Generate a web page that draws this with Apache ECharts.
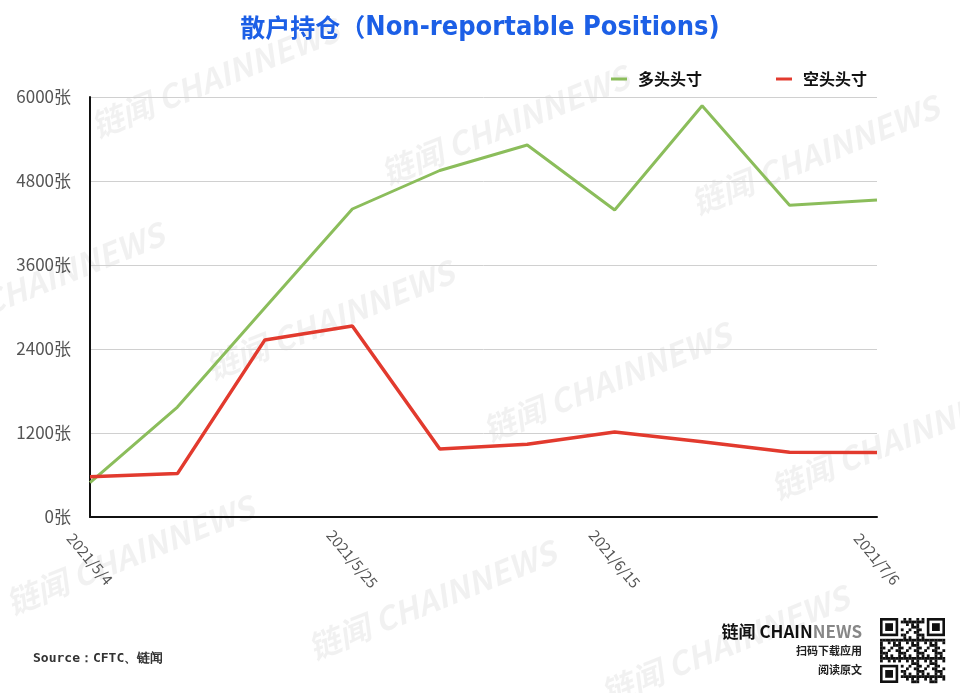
<!DOCTYPE html>
<html>
<head>
<meta charset="utf-8">
<script src="https://cdn.jsdelivr.net/npm/echarts@6/dist/echarts.min.js"></script>
<style>html,body{margin:0;padding:0;background:#fff}#c{width:960px;height:693px}</style>
</head>
<body>
<div id="c"></div>
<script>
var dates = ['2021/5/4','2021/5/11','2021/5/18','2021/5/25','2021/6/1','2021/6/8','2021/6/15','2021/6/22','2021/6/29','2021/7/6'];
var longPos = [490, 1570, 2990, 4400, 4950, 5315, 4385, 5875, 4455, 4530];
var shortPos = [575, 620, 2530, 2730, 970, 1040, 1215, 1075, 925, 920];
var seriesNames = ['多头头寸', '空头头寸'];
var yTicks = [0, 1200, 2400, 3600, 4800, 6000];

var FONT = '"Noto Sans CJK SC", "Noto Sans", sans-serif';
var wmPos = [[215,78],[505,125],[815,155],[40,282],[330,320],[607,382],[895,440],[130,555],[432,600],[725,645],[1010,700],[1100,215]];
var graphics = [];
wmPos.forEach(function(p){
  graphics.push({type:'text', x:p[0], y:p[1], rotation: 22*Math.PI/180, z:-10, silent:true,
    style:{text:'链闻 CHAINNEWS', fill:'rgba(0,0,0,0.055)', font:'italic bold 32px ' + FONT, align:'center', verticalAlign:'middle'}});
});
graphics.push({type:'text', left:33, top:652, style:{text:'Source：CFTC、链闻', fill:'#333', font:'bold 13px "DejaVu Sans Mono", monospace'}});
graphics.push({type:'text', x:862, y:632, style:{rich:{a:{fill:'#111', font:'bold 17px ' + FONT},b:{fill:'#888', font:'bold 17px ' + FONT}}, text:'{a|链闻 CHAIN}{b|NEWS}', align:'right', verticalAlign:'middle'}});
graphics.push({type:'text', x:862, y:651, style:{text:'扫码下载应用', fill:'#222', font:'bold 11px ' + FONT, align:'right', verticalAlign:'middle'}});
graphics.push({type:'text', x:862, y:670, style:{text:'阅读原文', fill:'#222', font:'bold 11px ' + FONT, align:'right', verticalAlign:'middle'}});
// QR-like decoration
var qx = 880, qy = 618, n = 25, m = 2.6;
function finder(ox, oy){
  graphics.push({type:'rect', shape:{x:ox, y:oy, width:7*m, height:7*m}, style:{fill:'#111'}});
  graphics.push({type:'rect', shape:{x:ox+m, y:oy+m, width:5*m, height:5*m}, style:{fill:'#fff'}});
  graphics.push({type:'rect', shape:{x:ox+2*m, y:oy+2*m, width:3*m, height:3*m}, style:{fill:'#111'}});
}
for (var i=0;i<n;i++){ for (var j=0;j<n;j++){
  var inF = (i<8&&j<8)||(i<8&&j>=n-8)||(i>=n-8&&j<8);
  if (inF) continue;
  if (((i*7 + j*11 + i*j*3) % 7) < 3) {
    graphics.push({type:'rect', shape:{x:qx+j*m, y:qy+i*m, width:m+0.2, height:m+0.2}, style:{fill:'#111'}});
  }
}}
finder(qx, qy); finder(qx+(n-7)*m, qy); finder(qx, qy+(n-7)*m);

var chart = echarts.init(document.getElementById('c'));
chart.setOption({
  backgroundColor:'#fff',
  animation:false,
  title:{text:'{c|散户持仓（}{l|Non-reportable Positions)}', left:'center', top:9,
    textStyle:{rich:{
      c:{color:'#1c5fe6', fontSize:25, fontWeight:'bold', fontFamily:FONT},
      l:{color:'#1c5fe6', fontSize:27, fontWeight:'bold', fontFamily:'"DejaVu Sans Condensed", "Liberation Sans Narrow", "DejaVu Sans", sans-serif'}
    }}},
  legend:{left:606, top:66, itemGap:74, itemWidth:16, itemHeight:3, icon:'rect',
    textStyle:{color:'#111', fontSize:16, fontWeight:'bold', fontFamily:FONT, padding:[0,0,0,6]},
    data:seriesNames},
  grid:{left:90, right:83, top:97, bottom:176},
  xAxis:{type:'category', data:dates, boundaryGap:false,
    axisLine:{lineStyle:{color:'#111', width:2}}, axisTick:{show:false},
    axisLabel:{interval:2, rotate:-50, align:'center', verticalAlign:'middle', margin:42, color:'#555', fontSize:15, fontFamily:FONT}},
  yAxis:{type:'value', min:yTicks[0], max:yTicks[yTicks.length-1], interval:1200,
    axisLine:{show:true, lineStyle:{color:'#111', width:2}}, axisTick:{show:false},
    splitLine:{lineStyle:{color:'#d0d0d0', width:1}},
    axisLabel:{formatter:function(v){return v+'张';}, color:'#555', fontSize:17, margin:19, fontFamily:FONT}},
  graphic: graphics,
  series:[
    {name:seriesNames[0], type:'line', data:longPos, showSymbol:false, symbol:'none', lineStyle:{color:'#8bbd5b', width:3}, itemStyle:{color:'#8bbd5b'}, z:3},
    {name:seriesNames[1], type:'line', data:shortPos, showSymbol:false, symbol:'none', lineStyle:{color:'#e23a2e', width:3.5}, itemStyle:{color:'#e23a2e'}, z:4}
  ]
});
</script>
</body>
</html>
